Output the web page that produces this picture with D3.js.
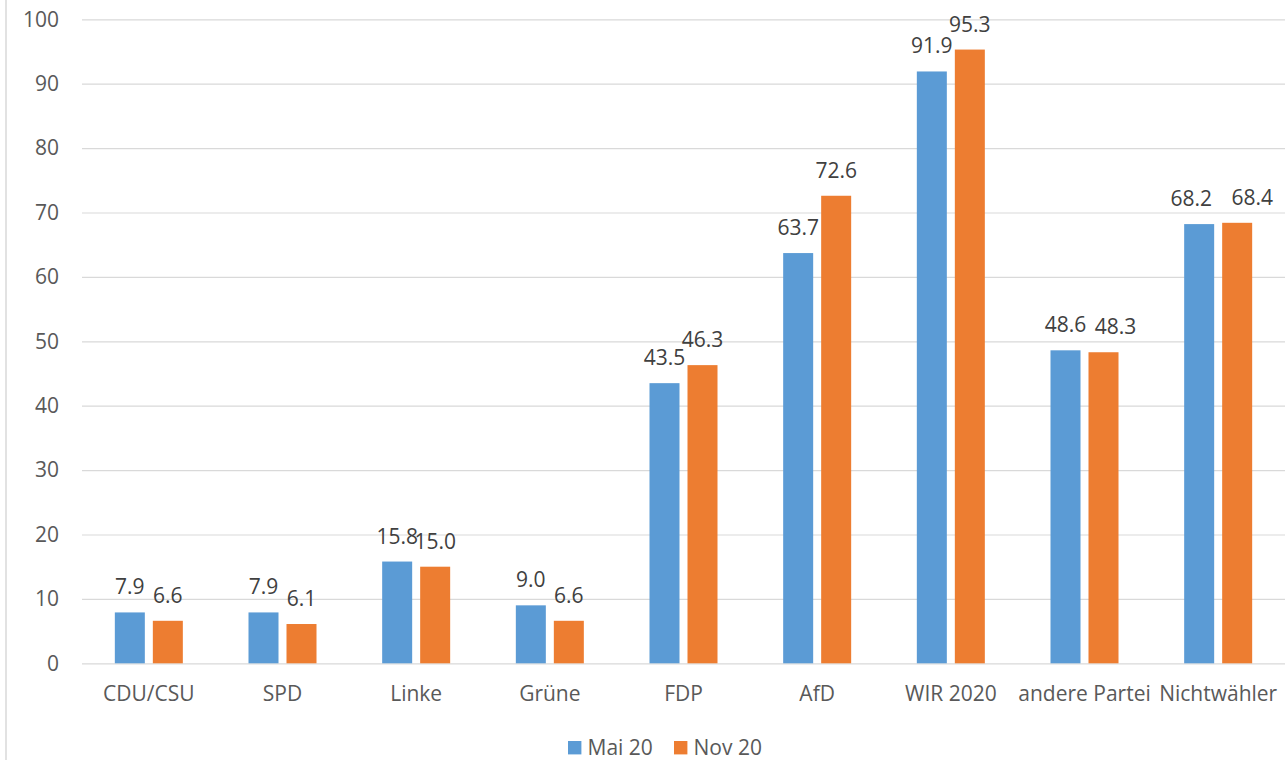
<!DOCTYPE html>
<html>
<head>
<meta charset="utf-8">
<script src="https://cdn.jsdelivr.net/npm/d3@7"></script>
<style>
  html, body { margin: 0; padding: 0; background: #fff; }
  svg { display: block; font-family: "Open Sans", sans-serif; }
</style>
</head>
<body>
<svg id="chart" width="1287" height="760"></svg>
<script>
const categories = ["CDU/CSU", "SPD", "Linke", "Grüne", "FDP", "AfD", "WIR 2020", "andere Partei", "Nichtwähler"];
const seriesNames = ["Mai 20", "Nov 20"];
const mai20 = [7.9, 7.9, 15.8, 9.0, 43.5, 63.7, 91.9, 48.6, 68.2];
const nov20 = [6.6, 6.1, 15.0, 6.6, 46.3, 72.6, 95.3, 48.3, 68.4];
const yTicks = [0, 10, 20, 30, 40, 50, 60, 70, 80, 90, 100];
const colors = ["#5B9BD5", "#ED7D31"];

// manual label nudges (as in the original, where crowded labels were moved apart)
const labelNudge = { "andere Partei|Nov 20": 12, "Nichtwähler|Mai 20": -8, "Nichtwähler|Nov 20": 15 };

const seriesValues = [mai20, nov20];
const FS = 21;

const svg = d3.select("#chart");
const mLeft = 82, mRight = 1285, mTop = 19.3, mBottom = 663.3;

const x0 = d3.scaleBand().domain(categories).range([mLeft, mRight]).padding(0);
const groupW = 68;
const x1 = d3.scaleBand().domain(seriesNames)
  .range([x0.bandwidth() / 2 - groupW / 2, x0.bandwidth() / 2 + groupW / 2])
  .paddingInner(2 - groupW / 38).paddingOuter(0);
const y = d3.scaleLinear().domain([0, 100]).range([mBottom, mTop]);

// outer left border of chart area
svg.append("line").attr("x1", 6).attr("x2", 6).attr("y1", 0).attr("y2", 760)
  .attr("stroke", "#d9d9d9").attr("stroke-width", 1.5);

// gridlines + y tick labels
const yAxis = d3.axisLeft(y).tickValues(yTicks).tickSize(-(mRight - mLeft)).tickPadding(23)
  .tickFormat(d3.format("d"));
const gy = svg.append("g").attr("transform", `translate(${mLeft},0)`).call(yAxis);
gy.select(".domain").remove();
gy.selectAll(".tick line").attr("stroke", "#d9d9d9").attr("stroke-width", 1.2);
gy.selectAll(".tick text").attr("fill", "#595959").attr("font-size", FS)
  .attr("font-family", "Open Sans, sans-serif");

// x axis labels
const xAxis = d3.axisBottom(x0).tickSize(0).tickPadding(23);
const gx = svg.append("g").attr("transform", `translate(0,${mBottom})`).call(xAxis);
gx.select(".domain").remove();
gx.selectAll(".tick text").attr("fill", "#595959").attr("font-size", FS)
  .attr("font-family", "Open Sans, sans-serif");

// bars
const rows = categories.map((c, i) => ({ cat: c, vals: seriesNames.map((s, j) => ({ cat: c, s, j, v: seriesValues[j][i] })) }));
const groups = svg.append("g").selectAll("g").data(rows).join("g")
  .attr("transform", d => `translate(${x0(d.cat)},0)`);

groups.selectAll("rect").data(d => d.vals).join("rect")
  .attr("x", d => x1(d.s))
  .attr("width", x1.bandwidth())
  .attr("y", d => y(d.v))
  .attr("height", d => y(0) - y(d.v))
  .attr("fill", d => colors[d.j]);

groups.selectAll("text").data(d => d.vals).join("text")
  .attr("x", d => x1(d.s) + x1.bandwidth() / 2 + (labelNudge[d.cat + "|" + d.s] || 0))
  .attr("y", d => y(d.v) - 18)
  .attr("text-anchor", "middle")
  .attr("font-size", FS)
  .attr("fill", "#404040")
  .text(d => d.v.toFixed(1));

// legend
const legendX = [568, 674];
const legend = svg.append("g").selectAll("g").data(seriesNames).join("g")
  .attr("transform", (d, i) => `translate(${legendX[i]},741)`);
legend.append("rect").attr("width", 13.4).attr("height", 13.4).attr("fill", (d, i) => colors[i]);
legend.append("text").attr("x", 19.5).attr("y", 13.6)
  .attr("font-size", FS).attr("fill", "#595959").text(d => d);
</script>
</body>
</html>
